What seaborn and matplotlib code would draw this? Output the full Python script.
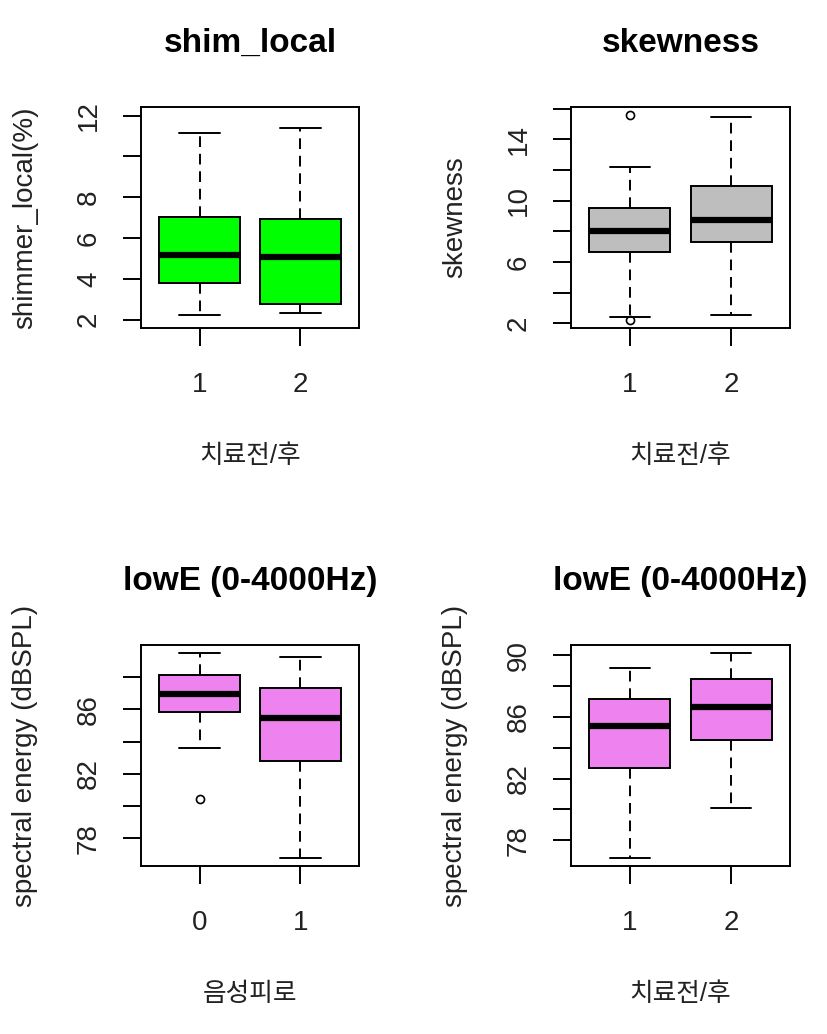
import matplotlib
matplotlib.use("Agg")
import matplotlib.pyplot as plt
import numpy as np
import pandas as pd
import seaborn as sns

# ---------------- data ----------------
tx_groups = ["1", "2"]          # 치료전/후
fatigue_groups = ["0", "1"]     # 음성피로

# five-number summaries per group: [lower whisker, Q1, median, Q3, upper whisker]
shim_stats = [[2.23, 3.79, 5.16, 7.04, 11.17],
              [2.33, 2.75, 5.05, 6.94, 11.40]]
shim_outliers = [[], []]

skew_stats = [[2.41, 6.65, 8.06, 9.55, 12.20],
              [2.56, 7.32, 8.73, 10.96, 15.44]]
skew_outliers = [[2.20, 15.57], []]

lowe_fatigue_stats = [[83.60, 85.85, 86.93, 88.10, 89.47],
                      [76.80, 82.79, 85.48, 87.34, 89.22]]
lowe_fatigue_outliers = [[80.42], []]

lowe_tx_stats = [[76.85, 82.71, 85.40, 87.20, 89.20],
                 [80.08, 84.51, 86.66, 88.44, 90.15]]
lowe_tx_outliers = [[], []]

shim_yticks = [2, 4, 6, 8, 10, 12]
shim_yticklabels = ["2", "4", "6", "8", "", "12"]
skew_yticks = [2, 4, 6, 8, 10, 12, 14, 16]
skew_yticklabels = ["2", "", "6", "", "10", "", "14", ""]
lowe_fatigue_yticks = [78, 80, 82, 84, 86, 88]
lowe_fatigue_yticklabels = ["78", "", "82", "", "86", ""]
lowe_tx_yticks = [78, 80, 82, 84, 86, 88, 90]
lowe_tx_yticklabels = ["78", "", "82", "", "86", "", "90"]

GREEN = "#00FF00"
GRAY = "#BEBEBE"
VIOLET = "#EE82EE"


def sample_from_summary(stats, outliers):
    """Build a sample whose boxplot statistics equal the given summary."""
    lo_w, q1, med, q3, hi_w = stats
    lo = sorted(o for o in outliers if o < med)
    hi = sorted(o for o in outliers if o > med)
    k = 4
    return (lo + [lo_w] * (k - len(lo)) + [q1] * k + [med]
            + [q3] * k + [hi_w] * (k - len(hi)) + hi)


def make_frame(groups, stats, outliers):
    rows = []
    for g, s, o in zip(groups, stats, outliers):
        for v in sample_from_summary(s, o):
            rows.append({"group": g, "value": v})
    return pd.DataFrame(rows)


sns.set_style("white")
plt.rcParams["font.family"] = ["Liberation Sans", "Noto Sans CJK KR", "DejaVu Sans"]

fig = plt.figure(figsize=(8.27, 10.34), dpi=100)
W, H = 827.0, 1034.0

panels = [
    dict(rect=(141, 107, 359, 328), groups=tx_groups, stats=shim_stats, out=shim_outliers,
         color=GREEN, title="shim_local", ylabel="shimmer_local(%)", xlabel="치료전/후",
         ylim=(1.59, 12.42), yticks=shim_yticks, ylabels=shim_yticklabels),
    dict(rect=(571, 107, 790, 328), groups=tx_groups, stats=skew_stats, out=skew_outliers,
         color=GRAY, title="skewness", ylabel="skewness", xlabel="치료전/후",
         ylim=(1.70, 16.12), yticks=skew_yticks, ylabels=skew_yticklabels),
    dict(rect=(141, 645, 359, 866), groups=fatigue_groups, stats=lowe_fatigue_stats,
         out=lowe_fatigue_outliers, color=VIOLET, title="lowE (0-4000Hz)",
         ylabel="spectral energy (dBSPL)", xlabel="음성피로",
         ylim=(76.29, 89.98), yticks=lowe_fatigue_yticks, ylabels=lowe_fatigue_yticklabels),
    dict(rect=(571, 645, 790, 866), groups=tx_groups, stats=lowe_tx_stats,
         out=lowe_tx_outliers, color=VIOLET, title="lowE (0-4000Hz)",
         ylabel="spectral energy (dBSPL)", xlabel="치료전/후",
         ylim=(76.32, 90.68), yticks=lowe_tx_yticks, ylabels=lowe_tx_yticklabels),
]

LW = 1.4
for p in panels:
    x0, y0, x1, y1 = p["rect"]
    ax = fig.add_axes([x0 / W, 1 - y1 / H, (x1 - x0) / W, (y1 - y0) / H])
    df = make_frame(p["groups"], p["stats"], p["out"])
    sns.boxplot(data=df, x="group", y="value", order=p["groups"], ax=ax,
                color=p["color"], saturation=1, width=0.8, linecolor="black",
                linewidth=LW,
                medianprops=dict(color="black", linewidth=4.5),
                whiskerprops=dict(color="black", linestyle=(0, (5.5, 3.5)), linewidth=LW),
                capprops=dict(color="black", linewidth=LW),
                flierprops=dict(marker="o", markerfacecolor="none",
                                markeredgecolor="black", markersize=5.8,
                                markeredgewidth=1.2))
    ax.set_xlim(-0.58, 1.58)
    ax.set_ylim(*p["ylim"])
    ax.set_yticks(p["yticks"])
    ax.set_yticklabels(p["ylabels"], rotation=90, va="center")
    ax.tick_params(axis="both", direction="out", length=13, width=LW,
                   color="black", labelsize=20, labelcolor="#222222",
                   left=True, bottom=True)
    ax.tick_params(axis="x", pad=18.5)
    ax.tick_params(axis="y", pad=15)
    for s in ax.spines.values():
        s.set_visible(True)
        s.set_color("black")
        s.set_linewidth(LW)
    ax.set_title(p["title"], fontsize=24, fontweight="bold", pad=39.5, color="black")
    ax.set_xlabel(p["xlabel"], fontsize=18.5, color="#222222")
    ax.set_ylabel(p["ylabel"], fontsize=20, color="#222222")
    ax.xaxis.label.set_va("center")
    ax.xaxis.set_label_coords(0.5, -0.577)
    ax.yaxis.label.set_va("center")
    ax.yaxis.set_label_coords(-0.53, 0.5)

fig.savefig("out.png", dpi=100, facecolor="white")
